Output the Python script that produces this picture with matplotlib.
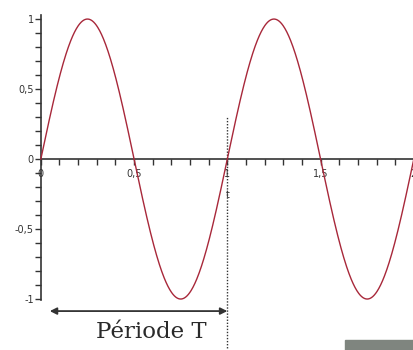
import numpy as np
import matplotlib
matplotlib.use("Agg")
import matplotlib.pyplot as plt
from matplotlib.ticker import FixedLocator
from matplotlib.patches import Rectangle

# Signal parameters
amplitude = 1.0
period = 1.0
t_start, t_end = 0.0, 2.0

# Axis ticks and labels (French decimal comma)
x_major = [0, 0.5, 1, 1.5, 2]
x_labels = ["0", "0,5", "1", "1,5", "2"]
x_minor = [i / 10 for i in range(0, 21)]
y_major = [-1, -0.5, 0, 0.5, 1]
y_labels = ["-1", "-0,5", "0", "0,5", "1"]
y_minor = [i / 10 for i in range(-10, 11)]
period_label = "Période T"
axis_name = "t"

t = np.linspace(t_start, t_end, 800)
s = amplitude * np.sin(2 * np.pi * t / period)

fig = plt.figure(figsize=(4.14, 3.5), dpi=100)
ax = fig.add_axes([0, 0, 1, 1])
ax.set_xlim(-0.219, 2.001)
ax.set_ylim(-1.364, 1.136)

ax.plot(t, s, color="#a8283a", lw=1.0, zorder=3)

axis_col = "#333333"
for side in ("top", "right"):
    ax.spines[side].set_visible(False)
ax.spines["left"].set_position(("data", 0))
ax.spines["bottom"].set_position(("data", 0))
ax.spines["left"].set_bounds(-1.01, 1.03)
ax.spines["bottom"].set_bounds(0, 2.2)
for side in ("left", "bottom"):
    ax.spines[side].set_color(axis_col)
    ax.spines[side].set_linewidth(1.2)

ax.xaxis.set_major_locator(FixedLocator(x_major))
ax.set_xticklabels(x_labels)
ax.xaxis.set_minor_locator(FixedLocator(x_minor))
ax.yaxis.set_major_locator(FixedLocator(y_major))
ax.set_yticklabels(y_labels)
ax.yaxis.set_minor_locator(FixedLocator(y_minor))

ax.tick_params(axis="both", which="both", direction="out", length=4,
               width=1.0, color=axis_col, labelsize=7, labelcolor="#333333")
ax.tick_params(axis="y", which="both", pad=1)
ax.tick_params(axis="x", which="both", pad=3)

ax.annotate(axis_name, xy=(period, 0), xytext=(0, -22), textcoords="offset points",
            ha="center", va="top", fontsize=7, color="#333333")

# Marker of one full period
ax.plot([period, period], [-1.5, 0.31], ls=(0, (1, 1.2)), color="#333333", lw=1.0,
        zorder=2)
ax.annotate("", xy=(0.048, -1.086), xytext=(period, -1.086),
            arrowprops=dict(arrowstyle="<|-|>", color="#333333", lw=1.3,
                            mutation_scale=10, shrinkA=0, shrinkB=0))
ax.text(0.595, -1.238, period_label, ha="center", va="center",
        fontsize=16.5, family="DejaVu Serif", color="#2a2a2a")

fig.patches.append(Rectangle((345 / 414, 0), 70 / 414, 10 / 350,
                             transform=fig.transFigure, color="#7f857f"))

fig.savefig("out.png", dpi=100)
